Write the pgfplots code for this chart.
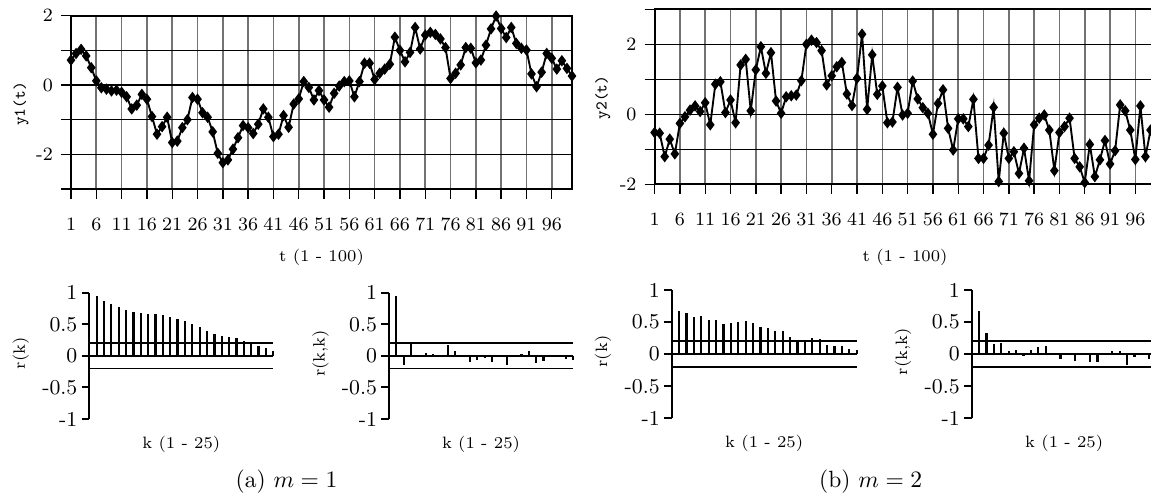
\documentclass[border=0pt]{standalone}
\usepackage{pgfplots}
\pgfplotsset{compat=1.18}
\usepackage{pgfplotstable}

% simulated series, m = 1
\pgfplotstableread{
t y
1 0.72
2 0.91
3 1.03
4 0.84
5 0.50
6 0.12
7 -0.08
8 -0.12
9 -0.17
10 -0.15
11 -0.21
12 -0.34
13 -0.69
14 -0.58
15 -0.27
16 -0.41
17 -0.91
18 -1.42
19 -1.20
20 -0.93
21 -1.66
22 -1.62
23 -1.23
24 -1.00
25 -0.36
26 -0.41
27 -0.80
28 -0.93
29 -1.35
30 -1.97
31 -2.24
32 -2.16
33 -1.85
34 -1.52
35 -1.17
36 -1.23
37 -1.40
38 -1.13
39 -0.69
40 -0.93
41 -1.49
42 -1.42
43 -0.88
44 -1.22
45 -0.55
46 -0.40
47 0.10
48 -0.07
49 -0.43
50 -0.16
51 -0.43
52 -0.64
53 -0.24
54 -0.03
55 0.10
56 0.12
57 -0.34
58 0.10
59 0.63
60 0.63
61 0.16
62 0.34
63 0.46
64 0.60
65 1.38
66 1.00
67 0.67
68 0.94
69 1.66
70 1.04
71 1.44
72 1.52
73 1.46
74 1.33
75 1.08
76 0.19
77 0.34
78 0.58
79 1.08
80 1.06
81 0.64
82 0.72
83 1.15
84 1.62
85 1.99
86 1.63
87 1.37
88 1.66
89 1.20
90 1.06
91 1.01
92 0.32
93 -0.05
94 0.37
95 0.91
96 0.77
97 0.46
98 0.70
99 0.48
100 0.26
}\yone

% simulated series, m = 2
\pgfplotstableread{
t y
1 -0.52
2 -0.54
3 -1.21
4 -0.71
5 -1.13
6 -0.26
7 -0.07
8 0.12
9 0.24
10 0.08
11 0.33
12 -0.30
13 0.86
14 0.93
15 0.05
16 0.41
17 -0.24
18 1.41
19 1.57
20 0.10
21 1.27
22 1.93
23 1.17
24 1.76
25 0.38
26 0.03
27 0.50
28 0.53
29 0.55
30 0.96
31 2.00
32 2.12
33 2.05
34 1.82
35 0.84
36 1.10
37 1.36
38 1.48
39 0.58
40 0.25
41 1.03
42 2.29
43 0.14
44 1.70
45 0.57
46 0.81
47 -0.24
48 -0.22
49 0.77
50 -0.02
51 0.03
52 0.95
53 0.44
54 0.19
55 0.03
56 -0.57
57 0.31
58 0.70
59 -0.40
60 -1.02
61 -0.13
62 -0.13
63 -0.35
64 0.43
65 -1.26
66 -1.26
67 -0.88
68 0.20
69 -1.92
70 -0.54
71 -1.26
72 -1.07
73 -1.69
74 -0.97
75 -1.90
76 -0.30
77 -0.11
78 -0.02
79 -0.45
80 -1.61
81 -0.52
82 -0.35
83 -0.11
84 -1.26
85 -1.50
86 -1.95
87 -0.86
88 -1.78
89 -1.30
90 -0.75
91 -1.42
92 -1.04
93 0.27
94 0.10
95 -0.45
96 -1.29
97 0.24
98 -1.21
99 -0.45
100 -0.10
}\ytwo

% sample autocorrelations r(k) and partial autocorrelations r(k,k)
\pgfplotstableread{
k acfa pacfa acfb pacfb
1 0.94 0.94 0.67 0.67
2 0.87 -0.14 0.635 0.33
3 0.82 0.19 0.58 0.16
4 0.77 0.00 0.59 0.18
5 0.73 0.04 0.53 0.05
6 0.70 0.03 0.525 0.07
7 0.675 -0.01 0.47 -0.03
8 0.665 0.17 0.48 0.07
9 0.66 0.07 0.495 0.11
10 0.65 0.00 0.52 0.13
11 0.62 -0.10 0.48 0.01
12 0.585 -0.07 0.43 -0.08
13 0.55 -0.04 0.41 -0.01
14 0.50 -0.10 0.365 -0.11
15 0.45 -0.01 0.36 0.00
16 0.40 -0.14 0.27 -0.13
17 0.35 0.01 0.22 -0.12
18 0.32 0.03 0.22 0.00
19 0.305 0.07 0.245 0.05
20 0.28 -0.12 0.235 0.05
21 0.24 -0.08 0.14 -0.17
22 0.20 0.02 0.125 -0.05
23 0.16 -0.02 0.125 0.00
24 0.12 -0.05 0.083 -0.07
25 0.07 -0.06 0.06 -0.03
}\corr

\pgfplotsset{
  topaxis/.style={
    scale only axis, anchor=south west, width=213.15pt,
    xmin=1, xmax=100, xtick={1,6,...,96},
    grid=major, tick align=outside, major tick length=4.2pt,
    xtick pos=bottom, ytick pos=left,
    x grid style={black!55, line width=0.7pt},
    y grid style={black, line width=0.6pt},
    axis line style={black, line width=0.8pt},
    tick style={black, line width=0.6pt},
    ticklabel style={font=\fontsize{8}{9}\selectfont},
    xticklabel style={anchor=center, yshift=-10.8pt},
    label style={font=\scriptsize},
    xlabel style={anchor=center},
    ylabel style={anchor=center},
    clip=false},
  series/.style={black, line width=0.8pt, mark=diamond*, mark size=1.8pt,
    mark options={solid, fill=black}},
  acfaxis/.style={
    scale only axis, anchor=south west,
    xmin=0, xmax=25, ymin=-1, ymax=1,
    axis x line=none, axis y line=left,
    axis line style={-, black, line width=0.8pt},
    ytick={-1,-0.5,0,0.5,1}, yticklabels={-1,-0.5,0,0.5,1},
    tick align=outside, major tick length=3.3pt,
    tick style={black, line width=0.8pt},
    ticklabel style={font=\fontsize{9}{10}\selectfont, inner sep=1.6pt},
    label style={font=\scriptsize},
    ylabel style={anchor=center, at={(axis description cs:-0.372,0.52)}},
    clip=false},
  bars/.style={ycomb, black, line width=0.95pt, no marks},
  bound/.style={black, line width=0.7pt, no marks},
}

\begin{document}
\begin{tikzpicture}
\useasboundingbox (0,0) rectangle (489.7pt,211.88pt);
\clip (0,0) rectangle (489.7pt,211.88pt);

% ---- top left: y1(t)
\begin{axis}[topaxis, at={(30.21pt,131.47pt)}, height=73.73pt,
  ymin=-3, ymax=2, ytick={-3,...,2}, yticklabels={,-2,,0,,2},
  xlabel={t (1 - 100)}, ylabel={\texttt{y1(t)}},
  xlabel style={at={(axis description cs:0.5,-0.3924)}},
  ylabel style={at={(axis description cs:-0.0998,0.49)}}]
\addplot[series] table[x=t, y=y] {\yone};
\end{axis}

% ---- top right: y2(t)
\begin{axis}[topaxis, at={(278.5pt,133.47pt)}, height=74.45pt,
  ymin=-2, ymax=3, ytick={-2,...,3}, yticklabels={-2,,0,,2,},
  xlabel={t (1 - 100)}, ylabel={\texttt{y2(t)}},
  xlabel style={at={(axis description cs:0.5,-0.4154)}},
  ylabel style={at={(axis description cs:-0.1032,0.496)}}]
\addplot[series] table[x=t, y=y] {\ytwo};
\end{axis}

% ---- correlograms, m = 1
\begin{axis}[acfaxis, at={(37.99pt,33.61pt)}, width=78.28pt, height=53.74pt, ylabel={r(k)}]
\addplot[bound, line width=0.8pt] coordinates {(0,0) (25,0)};
\addplot[bound] coordinates {(0,0.2) (25,0.2)};
\addplot[bound] coordinates {(0,-0.2) (25,-0.2)};
\addplot[bars] table[x=k, y=acfa] {\corr};
\node[font=\scriptsize] at (axis description cs:0.5,-0.198) {k (1 - 25)};
\end{axis}

\begin{axis}[acfaxis, at={(165.50pt,33.61pt)}, width=78.28pt, height=53.74pt, ylabel={r(k,k)}]
\addplot[bound, line width=0.8pt] coordinates {(0,0) (25,0)};
\addplot[bound] coordinates {(0,0.2) (25,0.2)};
\addplot[bound] coordinates {(0,-0.2) (25,-0.2)};
\addplot[bars] table[x=k, y=pacfa] {\corr};
\node[font=\scriptsize] at (axis description cs:0.5,-0.198) {k (1 - 25)};
\end{axis}

% ---- correlograms, m = 2
\begin{axis}[acfaxis, at={(285.78pt,33.91pt)}, width=78.71pt, height=54.59pt, ylabel={r(k)}]
\addplot[bound, line width=0.8pt] coordinates {(0,0) (25,0)};
\addplot[bound] coordinates {(0,0.2) (25,0.2)};
\addplot[bound] coordinates {(0,-0.2) (25,-0.2)};
\addplot[bars] table[x=k, y=acfb] {\corr};
\node[font=\scriptsize] at (axis description cs:0.5,-0.198) {k (1 - 25)};
\end{axis}

\begin{axis}[acfaxis, at={(413.42pt,33.91pt)}, width=78.71pt, height=54.59pt, ylabel={r(k,k)}]
\addplot[bound, line width=0.8pt] coordinates {(0,0) (25,0)};
\addplot[bound] coordinates {(0,0.2) (25,0.2)};
\addplot[bound] coordinates {(0,-0.2) (25,-0.2)};
\addplot[bars] table[x=k, y=pacfb] {\corr};
\node[font=\scriptsize] at (axis description cs:0.5,-0.198) {k (1 - 25)};
\end{axis}

% ---- sub-captions
\node[font=\normalsize] at (121.89pt,6.94pt) {(a)~$m = 1$};
\node[font=\normalsize] at (370.44pt,6.94pt) {(b)~$m = 2$};
\end{tikzpicture}
\end{document}
